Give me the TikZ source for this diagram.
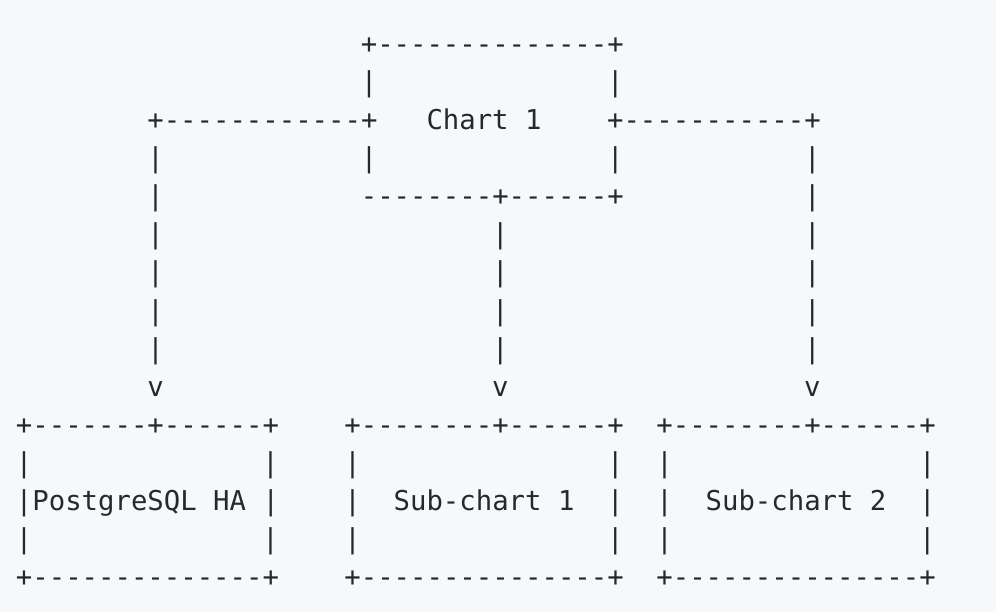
\documentclass[tikz,border=0pt]{standalone}
\usepackage{fontspec}
\setmonofont{DejaVu Sans Mono}
\definecolor{codebg}{HTML}{F6F8FA}
\definecolor{ink}{HTML}{24292E}
\begin{document}
\begin{tikzpicture}[x=16.42pt,y=-38pt,
  asc/.style={font=\ttfamily\fontsize{27.3}{38}\selectfont, text=ink, inner sep=0pt, anchor=base west}]
\fill[codebg] (0pt,0pt) rectangle (996pt,-612pt);
\begin{scope}[shift={(15.8pt,-54pt)}]
% Chart 1
\node[asc] (ctop) at (21,0) {+--------------+};
\node[asc] (cl1) at (21,1) {|};
\node[asc] (cr1) at (36,1) {|};
\node[asc] (armL) at (8,2) {+------------+};
\node[asc] (chart) at (25,2) {Chart 1};
\node[asc] (armR) at (36,2) {+-----------+};
\foreach \c in {8,21,36,48} \node[asc] (bar3-\c) at (\c,3) {|};
\node[asc] (dl) at (8,4) {|};
\node[asc] (cbot) at (21,4) {--------+------+};
\node[asc] (dr) at (48,4) {|};
% drops
\foreach \k in {5,...,8}
  \foreach \c in {8,29,48} \node[asc] (bar\k-\c) at (\c,\k) {|};
\foreach \c in {8,29,48} \node[asc] (tip-\c) at (\c,9) {v};
% lower boxes
\node[asc] (pgtop) at (0,10) {+-------+------+};
\node[asc] (s1top) at (20,10) {+--------+------+};
\node[asc] (s2top) at (39,10) {+--------+------+};
\foreach \k in {11,13}
  \foreach \c in {0,15,20,36,39,55} \node[asc] (bar\k-\c) at (\c,\k) {|};
\node[asc] (pg) at (0,12) {|PostgreSQL HA |};
\node[asc] (s1l) at (20,12) {|};
\node[asc] (s1) at (23,12) {Sub-chart 1};
\node[asc] (s1r) at (36,12) {|};
\node[asc] (s2l) at (39,12) {|};
\node[asc] (s2) at (42,12) {Sub-chart 2};
\node[asc] (s2r) at (55,12) {|};
\node[asc] (pgbot) at (0,14) {+--------------+};
\node[asc] (s1bot) at (20,14) {+---------------+};
\node[asc] (s2bot) at (39,14) {+---------------+};
\end{scope}
\end{tikzpicture}
\end{document}
